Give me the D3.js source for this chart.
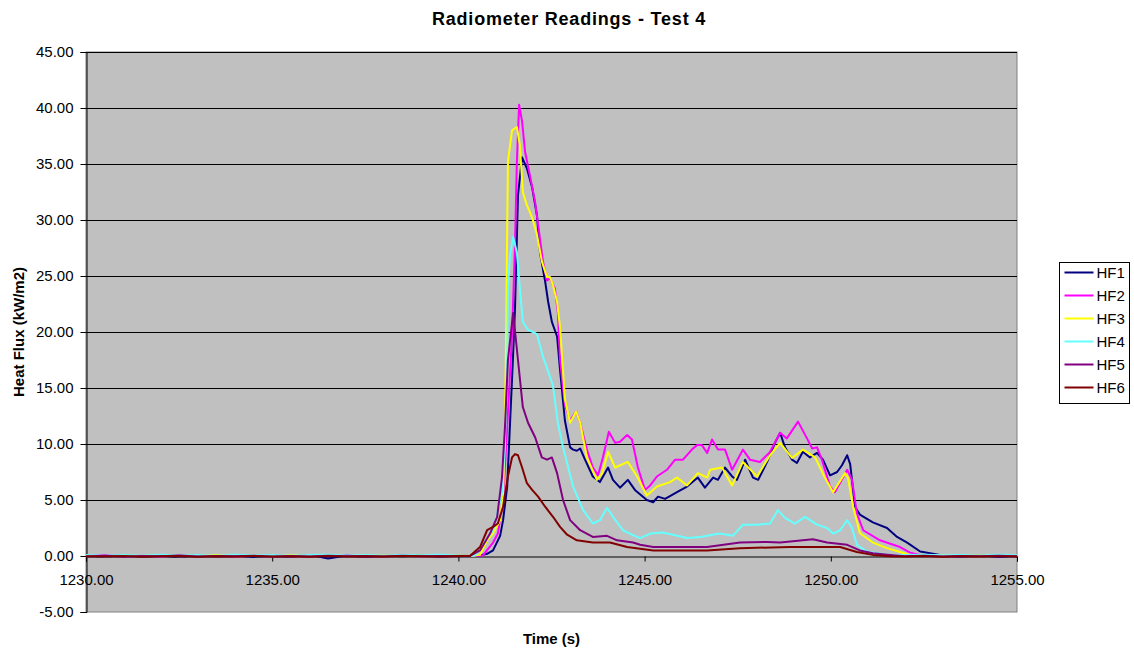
<!DOCTYPE html>
<html>
<head>
<meta charset="utf-8">
<script src="https://cdn.jsdelivr.net/npm/d3@7"></script>
<style>
  body { margin: 0; background: #fff; }
  text { font-family: "Liberation Sans", Arial, sans-serif; }
</style>
</head>
<body>
<div id="chart"></div>
<script>
// series names and colours (legend order)
const seriesNames = ["HF1", "HF2", "HF3", "HF4", "HF5", "HF6"];
const seriesColors = ["#000080", "#ff00ff", "#ffff00", "#66ffff", "#800080", "#800000"];

// baseline sample times before the event
const preTimes = [1230, 1230.5, 1231, 1231.5, 1232, 1232.5, 1233, 1233.5, 1234, 1234.5,
  1235, 1235.5, 1236, 1236.5, 1237, 1237.5, 1238, 1238.5, 1239, 1239.5, 1240];

// baseline readings (kW/m2) at preTimes
const hf1Pre = [0.05, -0.06, 0.08, -0.04, 0.02, -0.1, 0.06, -0.03, 0.04, -0.08, 0.03, -0.05, 0.1, -0.22, 0.05, -0.06, 0.04, -0.03, 0.07, -0.05, 0.02];
const hf2Pre = [0.02, 0.06, -0.03, 0.05, -0.05, 0.04, 0.0, 0.07, -0.04, 0.03, 0.06, -0.02, 0.04, 0.0, 0.05, -0.03, 0.06, 0.02, -0.02, 0.05, 0.03];
const hf3Pre = [0.04, -0.02, 0.05, 0.02, 0.06, -0.03, 0.04, 0.08, 0.0, 0.05, -0.02, 0.06, 0.03, 0.05, 0.0, 0.04, 0.07, -0.01, 0.05, 0.02, 0.04];
const hf4Pre = [0.08, 0.03, 0.1, 0.05, 0.12, 0.04, 0.09, 0.02, 0.11, 0.06, 0.1, 0.03, 0.08, 0.12, 0.05, 0.1, 0.04, 0.09, 0.07, 0.11, 0.05];
const hf5Pre = [-0.04, 0.02, -0.06, 0.0, -0.03, 0.04, -0.05, 0.01, -0.02, 0.03, -0.06, 0.0, -0.04, 0.02, -0.03, 0.01, -0.05, 0.03, -0.02, 0.0, -0.03];
const hf6Pre = [-0.02, -0.05, 0.0, -0.06, -0.03, -0.01, -0.07, -0.02, -0.04, 0.0, -0.05, -0.03, -0.06, -0.01, -0.04, -0.02, -0.05, 0.0, -0.03, -0.04, -0.01];

// readings during and after the event: [time (s), heat flux (kW/m2)]
const hf1 = [[1240.31, 0.0], [1240.58, 0.05], [1240.77, 0.2], [1240.93, 0.5], [1241.12, 1.8], [1241.2, 3.2],
  [1241.31, 6.2], [1241.39, 12.1], [1241.47, 18.0], [1241.52, 22.1], [1241.6, 32.2], [1241.71, 35.6],
  [1241.84, 34.6], [1241.98, 32.9], [1242.11, 30.4], [1242.19, 27.1], [1242.33, 24.5], [1242.41, 22.7],
  [1242.51, 20.9], [1242.65, 19.6], [1242.73, 16.6], [1242.86, 12.1], [1243.0, 9.7], [1243.08, 9.5],
  [1243.18, 9.4], [1243.27, 9.6], [1243.4, 8.6], [1243.61, 7.1], [1243.8, 6.6], [1244.02, 7.9],
  [1244.15, 6.8], [1244.34, 6.1], [1244.55, 6.8], [1244.74, 5.9], [1245.06, 5.0], [1245.23, 4.8],
  [1245.36, 5.3], [1245.55, 5.1], [1245.87, 5.7], [1246.14, 6.2], [1246.43, 7.0], [1246.62, 6.1],
  [1246.84, 7.0], [1246.97, 6.8], [1247.16, 7.9], [1247.35, 7.1], [1247.48, 6.8], [1247.7, 8.6],
  [1247.91, 7.0], [1248.05, 6.8], [1248.29, 8.4], [1248.5, 10.1], [1248.64, 11.0], [1248.77, 9.7],
  [1248.96, 8.6], [1249.09, 8.3], [1249.25, 9.3], [1249.44, 8.8], [1249.63, 9.2], [1249.79, 8.6],
  [1249.98, 7.2], [1250.17, 7.5], [1250.3, 8.1], [1250.44, 9.0], [1250.52, 8.2], [1250.65, 4.4],
  [1250.78, 3.7], [1251.13, 3.0], [1251.51, 2.5], [1251.78, 1.7], [1252.05, 1.2], [1252.4, 0.4],
  [1252.74, 0.2], [1253.0, 0.05], [1253.5, -0.05], [1254.0, 0.06], [1254.5, -0.08], [1255.0, 0.03]];

const hf2 = [[1240.31, 0.0], [1240.66, 0.05], [1240.93, 1.2], [1241.06, 2.0], [1241.2, 5.0], [1241.31, 11.5],
  [1241.44, 19.7], [1241.52, 27.8], [1241.57, 35.2], [1241.63, 40.3], [1241.71, 38.8], [1241.79, 36.1],
  [1241.92, 34.0], [1242.06, 31.6], [1242.14, 29.6], [1242.27, 26.3], [1242.38, 24.6], [1242.46, 24.8],
  [1242.59, 23.9], [1242.67, 21.8], [1242.73, 17.5], [1242.86, 13.5], [1243.0, 12.1], [1243.16, 12.9],
  [1243.27, 11.9], [1243.45, 9.5], [1243.61, 7.9], [1243.75, 7.2], [1243.88, 8.8], [1244.04, 11.1],
  [1244.21, 10.1], [1244.34, 10.2], [1244.53, 10.8], [1244.66, 10.4], [1244.82, 7.9], [1245.01, 5.9],
  [1245.15, 6.3], [1245.33, 7.1], [1245.6, 7.7], [1245.82, 8.6], [1246.03, 8.6], [1246.27, 9.5],
  [1246.41, 9.9], [1246.54, 9.9], [1246.68, 9.2], [1246.81, 10.4], [1246.97, 9.5], [1247.16, 9.5],
  [1247.35, 7.7], [1247.64, 9.5], [1247.83, 8.6], [1248.1, 8.4], [1248.37, 9.3], [1248.64, 11.0],
  [1248.82, 10.5], [1249.12, 12.0], [1249.36, 10.5], [1249.5, 9.6], [1249.63, 9.7], [1249.76, 8.6],
  [1249.98, 6.2], [1250.11, 5.7], [1250.44, 7.7], [1250.57, 6.8], [1250.7, 3.8], [1250.87, 2.3],
  [1251.32, 1.4], [1251.86, 0.8], [1252.13, 0.3], [1252.4, 0.1], [1253.0, 0.04], [1253.5, 0.0],
  [1254.0, 0.05], [1254.5, -0.02], [1255.0, 0.04]];

const hf3 = [[1240.31, 0.0], [1240.58, 0.1], [1240.77, 1.4], [1240.93, 2.0], [1241.12, 3.2], [1241.2, 5.6],
  [1241.25, 11.0], [1241.28, 19.7], [1241.33, 35.2], [1241.44, 38.0], [1241.57, 38.3], [1241.65, 36.7],
  [1241.73, 32.5], [1241.84, 31.3], [1241.92, 30.7], [1242.0, 30.0], [1242.11, 28.7], [1242.24, 26.3],
  [1242.38, 24.9], [1242.46, 24.9], [1242.54, 24.2], [1242.65, 22.7], [1242.73, 20.4], [1242.86, 14.0],
  [1243.0, 11.9], [1243.16, 12.9], [1243.27, 11.9], [1243.45, 8.8], [1243.72, 6.8], [1243.86, 7.4],
  [1244.02, 9.3], [1244.21, 7.9], [1244.55, 8.4], [1244.8, 7.1], [1245.06, 5.4], [1245.33, 6.2],
  [1245.68, 6.6], [1245.87, 7.0], [1246.14, 6.3], [1246.43, 7.4], [1246.68, 7.0], [1246.76, 7.7],
  [1247.08, 7.9], [1247.35, 6.3], [1247.64, 8.4], [1248.02, 7.1], [1248.37, 9.0], [1248.64, 10.1],
  [1248.96, 8.75], [1249.25, 9.5], [1249.58, 8.8], [1249.84, 7.0], [1250.06, 5.7], [1250.38, 7.4],
  [1250.46, 7.0], [1250.6, 4.4], [1250.78, 2.05], [1251.13, 1.2], [1251.51, 0.7], [1251.86, 0.36],
  [1252.13, 0.1], [1252.5, 0.03], [1253.0, 0.06], [1253.5, 0.02], [1254.0, 0.07], [1254.5, 0.01], [1255.0, 0.05]];

const hf4 = [[1240.31, 0.0], [1240.45, 0.05], [1240.93, 2.3], [1241.17, 5.6], [1241.25, 10.1], [1241.31, 17.5],
  [1241.33, 24.0], [1241.39, 27.0], [1241.47, 28.5], [1241.57, 27.1], [1241.65, 23.9], [1241.73, 20.9],
  [1241.87, 20.2], [1242.0, 20.0], [1242.11, 19.8], [1242.27, 17.8], [1242.46, 16.0], [1242.54, 15.2],
  [1242.67, 11.9], [1242.81, 9.7], [1243.08, 6.2], [1243.35, 4.1], [1243.61, 2.9], [1243.8, 3.2],
  [1243.99, 4.3], [1244.15, 3.5], [1244.42, 2.3], [1244.66, 1.9], [1244.88, 1.6], [1245.15, 2.0],
  [1245.49, 2.1], [1245.76, 1.9], [1246.14, 1.6], [1246.49, 1.7], [1247.02, 2.0], [1247.37, 1.8],
  [1247.64, 2.8], [1248.05, 2.8], [1248.37, 2.9], [1248.58, 4.1], [1248.77, 3.4], [1249.04, 2.9],
  [1249.31, 3.5], [1249.63, 2.8], [1249.9, 2.5], [1250.06, 2.0], [1250.25, 2.3], [1250.44, 3.2],
  [1250.57, 2.5], [1250.7, 1.0], [1250.97, 0.4], [1251.24, 0.25], [1251.6, 0.1], [1252.0, 0.08],
  [1252.5, 0.12], [1253.0, 0.06], [1253.5, 0.1], [1254.0, 0.04], [1254.5, 0.11], [1255.0, 0.07]];

const hf5 = [[1240.31, 0.0], [1240.58, 0.5], [1240.85, 2.0], [1241.04, 3.5], [1241.17, 7.0], [1241.25, 11.5],
  [1241.33, 17.5], [1241.47, 21.7], [1241.6, 17.5], [1241.73, 13.3], [1241.87, 11.9], [1242.06, 10.6],
  [1242.24, 8.8], [1242.38, 8.6], [1242.51, 8.8], [1242.65, 7.4], [1242.81, 5.0], [1243.0, 3.2],
  [1243.27, 2.3], [1243.61, 1.7], [1243.99, 1.8], [1244.26, 1.4], [1244.69, 1.2], [1244.88, 1.0],
  [1245.23, 0.8], [1245.76, 0.8], [1246.68, 0.8], [1247.56, 1.2], [1248.29, 1.25], [1248.64, 1.2],
  [1249.52, 1.5], [1249.9, 1.2], [1250.44, 1.0], [1250.78, 0.5], [1251.13, 0.25], [1251.6, 0.1],
  [1252.0, -0.02], [1252.5, 0.03], [1253.0, -0.04], [1253.5, 0.01], [1254.0, -0.03], [1254.5, 0.02], [1255.0, -0.02]];

const hf6 = [[1240.31, 0.0], [1240.58, 0.8], [1240.77, 2.3], [1240.93, 2.6], [1241.06, 2.9], [1241.2, 4.4],
  [1241.33, 7.1], [1241.44, 8.8], [1241.52, 9.1], [1241.6, 9.0], [1241.71, 7.9], [1241.84, 6.5],
  [1241.98, 5.9], [1242.14, 5.3], [1242.33, 4.4], [1242.54, 3.5], [1242.73, 2.6], [1242.92, 1.9],
  [1243.18, 1.4], [1243.61, 1.2], [1244.07, 1.2], [1244.53, 0.8], [1245.23, 0.5], [1246.68, 0.5],
  [1247.56, 0.7], [1248.9, 0.8], [1250.25, 0.8], [1250.7, 0.36], [1251.13, 0.1], [1251.6, -0.03],
  [1252.0, -0.05], [1252.5, -0.01], [1253.0, -0.06], [1253.5, -0.02], [1254.0, -0.05], [1254.5, -0.03], [1255.0, -0.04]];

const yTicks = [-5, 0, 5, 10, 15, 20, 25, 30, 35, 40, 45];
const xTicks = [1230, 1235, 1240, 1245, 1250, 1255];

const width = 1134, height = 650,
    margin = {top: 52, right: 117, bottom: 38, left: 86};

const svg = d3.select("#chart")
  .append("svg")
  .attr("width", width)
  .attr("height", height);

const x = d3.scaleLinear().domain([1230, 1255]).range([margin.left, width - margin.right]),
    y = d3.scaleLinear().domain([-5, 45]).range([height - margin.bottom, margin.top]);

// plain hyphen for negatives, like the original
const fmt = d => d3.format(".2f")(d).replace("\u2212", "-");

// plot area
svg.append("rect")
  .attr("x", x(1230)).attr("y", y(45))
  .attr("width", x(1255) - x(1230)).attr("height", y(-5) - y(45))
  .attr("fill", "#c0c0c0")
  .attr("stroke", "#808080");

// horizontal grid lines
svg.append("g")
  .selectAll("line")
  .data(yTicks.filter(d => d > 0))
  .enter().append("line")
    .attr("x1", x(1230)).attr("x2", x(1255))
    .attr("y1", d => Math.round(y(d)) + 0.5).attr("y2", d => Math.round(y(d)) + 0.5)
    .attr("stroke", "#000");

// y axis
const yAxis = svg.append("g")
  .attr("transform", "translate(" + (x(1230) + 0.5) + ",0)")
  .call(d3.axisLeft(y).tickValues(yTicks).tickFormat(fmt).tickSize(6).tickPadding(7));
yAxis.selectAll("text").style("font-size", "15px").attr("fill", "#000");

// x axis sits on the zero line
const xAxis = svg.append("g")
  .attr("transform", "translate(0," + (Math.round(y(0)) + 0.5) + ")")
  .call(d3.axisBottom(x).tickValues(xTicks).tickFormat(fmt).tickSize(5).tickPadding(13));
xAxis.selectAll("text").style("font-size", "15px").attr("fill", "#000");
xAxis.select(".domain").attr("stroke", "#000");

// series
const allSeries = [
  preTimes.map((t, i) => [t, hf1Pre[i]]).concat(hf1),
  preTimes.map((t, i) => [t, hf2Pre[i]]).concat(hf2),
  preTimes.map((t, i) => [t, hf3Pre[i]]).concat(hf3),
  preTimes.map((t, i) => [t, hf4Pre[i]]).concat(hf4),
  preTimes.map((t, i) => [t, hf5Pre[i]]).concat(hf5),
  preTimes.map((t, i) => [t, hf6Pre[i]]).concat(hf6)
];

const line = d3.line()
  .x(d => x(d[0]))
  .y(d => y(d[1]));

svg.append("g")
  .selectAll("path")
  .data(allSeries)
  .enter().append("path")
    .attr("d", line)
    .attr("fill", "none")
    .attr("stroke", (d, i) => seriesColors[i])
    .attr("stroke-width", 2)
    .attr("stroke-linejoin", "round");

// titles
svg.append("text")
  .attr("x", 569).attr("y", 25)
  .attr("text-anchor", "middle")
  .style("font-size", "18px").style("font-weight", "bold")
  .style("letter-spacing", "0.8px")
  .text("Radiometer Readings - Test 4");

svg.append("text")
  .attr("x", (x(1230) + x(1255)) / 2).attr("y", 644)
  .attr("text-anchor", "middle")
  .style("font-size", "15px").style("font-weight", "bold")
  .text("Time (s)");

svg.append("text")
  .attr("transform", "translate(24," + (y(20)) + ") rotate(-90)")
  .attr("text-anchor", "middle")
  .style("font-size", "15px").style("font-weight", "bold")
  .text("Heat Flux (kW/m2)");

// legend
const legend = svg.append("g").attr("transform", "translate(1059.5,262.5)");
legend.append("rect")
  .attr("width", 70).attr("height", 141)
  .attr("fill", "#fff").attr("stroke", "#000");

const item = legend.selectAll(".item")
  .data(seriesNames)
  .enter().append("g")
    .attr("class", "item")
    .attr("transform", (d, i) => "translate(0," + (10 + i * 23) + ")");

item.append("line")
  .attr("x1", 5).attr("x2", 34)
  .attr("stroke", (d, i) => seriesColors[i])
  .attr("stroke-width", 2);

item.append("text")
  .attr("x", 37).attr("dy", "0.35em")
  .style("font-size", "15px")
  .text(d => d);
</script>
</body>
</html>
